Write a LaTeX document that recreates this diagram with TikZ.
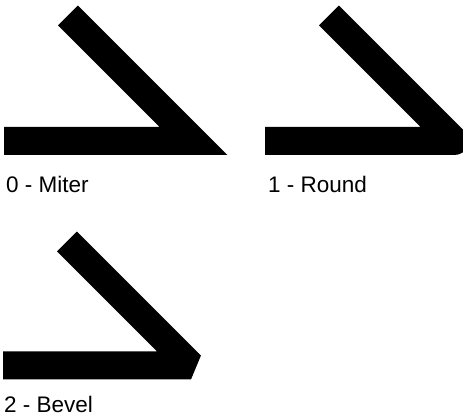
\documentclass[tikz,border=0pt]{standalone}
\usepackage{fontspec}
\setmainfont{Liberation Sans}
\begin{document}
\begin{tikzpicture}[
        x=1pt, y=1pt,
        joinbar/.style={
            draw=black,
            line width=28pt,
            line cap=butt
        },
        caption/.style={
            anchor=base west,
            inner sep=0pt,
            font=\fontsize{22.5}{27}\selectfont
        }
    ]

        \useasboundingbox (0,0) rectangle (463,420);

        % miter join
        \coordinate (mstart) at (4,279);
        \coordinate (mcorner) at (193.5,279);
        \coordinate (mend) at (68,404.5);
        \draw[joinbar, line join=miter] (mstart) -- (mcorner) -- (mend);
        \node[caption] (miter) at (6,227) {0 - Miter};

        % round join
        \coordinate (rstart) at (265,279);
        \coordinate (rcorner) at (454.5,279);
        \coordinate (rend) at (329,404.5);
        \draw[joinbar, line join=round] (rstart) -- (rcorner) -- (rend);
        \node[caption] (round) at (268,227) {1 - Round};

        % bevel join
        \coordinate (bstart) at (3,54.5);
        \coordinate (bcorner) at (191,54.5);
        \coordinate (bend) at (67,178.5);
        \draw[joinbar, line join=bevel] (bstart) -- (bcorner) -- (bend);
        \node[caption] (bevel) at (4,7) {2 - Bevel};

    \end{tikzpicture}
\end{document}
